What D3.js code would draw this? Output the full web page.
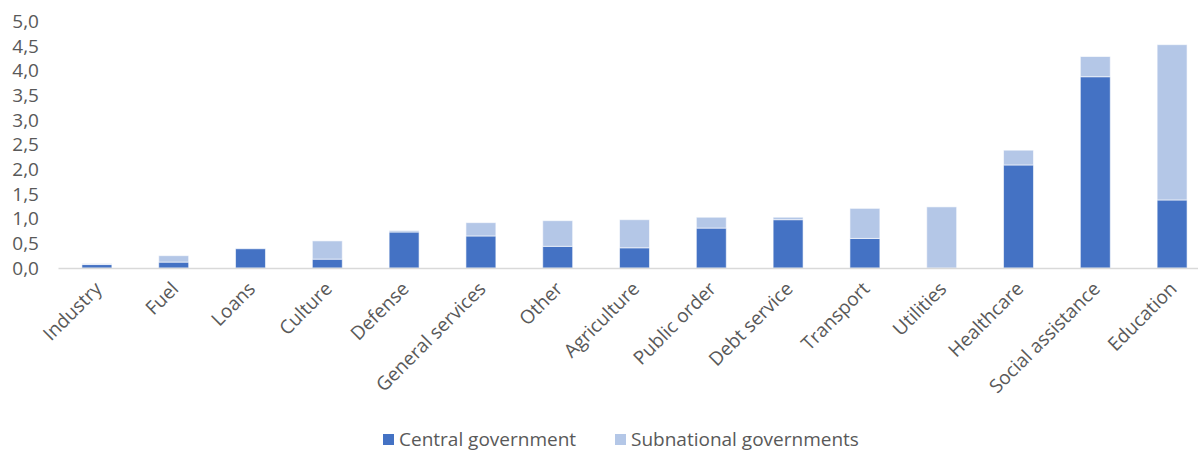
<!DOCTYPE html>
<html>
<head>
<meta charset="utf-8">
<script src="https://cdn.jsdelivr.net/npm/d3@7"></script>
<style>
  html, body { margin: 0; padding: 0; background: #fff; }
  svg { display: block; }
  text { font-family: "Open Sans", "Noto Sans", sans-serif; fill: #595959; }
</style>
</head>
<body>
<svg id="chart" width="1198" height="453"></svg>
<script>
// Spending by function, central vs. subnational governments
const categories = ["Industry", "Fuel", "Loans", "Culture", "Defense", "General services", "Other",
  "Agriculture", "Public order", "Debt service", "Transport", "Utilities", "Healthcare",
  "Social assistance", "Education"];
const central = [0.07, 0.12, 0.39, 0.18, 0.73, 0.65, 0.44, 0.41, 0.81, 0.98, 0.60, 0.00, 2.09, 3.88, 1.38];
const subnational = [0.02, 0.13, 0.00, 0.37, 0.03, 0.27, 0.52, 0.57, 0.22, 0.05, 0.61, 1.24, 0.30, 0.41, 3.15];
const yTicks = [0, 0.5, 1, 1.5, 2, 2.5, 3, 3.5, 4, 4.5, 5];
const seriesNames = ["Central government", "Subnational governments"];
const colors = ["#4472C4", "#B4C7E7"];

const svg = d3.select("#chart");
const plot = { left: 58.5, right: 1210.5, top: 21.5, bottom: 268 };

const x = d3.scaleBand().domain(categories).range([plot.left, plot.right]).paddingInner(0.61).paddingOuter(0.305);
const y = d3.scaleLinear().domain([0, 5]).range([plot.bottom, plot.top]);

const rows = categories.map((c, i) => ({ category: c, central: central[i], subnational: subnational[i] }));
const stacked = d3.stack().keys(["central", "subnational"])(rows);

// y axis labels
const fmt = v => d3.format(".1f")(v).replace(".", ",");
svg.append("g")
  .selectAll("text")
  .data(yTicks)
  .join("text")
  .attr("x", 39)
  .attr("y", d => y(d))
  .attr("dy", "0.35em")
  .attr("text-anchor", "end")
  .style("font-size", "19px")
  .text(fmt);

// stacked bars
svg.append("g")
  .selectAll("g")
  .data(stacked)
  .join("g")
  .attr("fill", (d, i) => colors[i])
  .selectAll("rect")
  .data(d => d)
  .join("rect")
  .attr("x", d => x(d.data.category))
  .attr("width", x.bandwidth())
  .attr("y", d => y(d[1]))
  .attr("height", d => Math.max(0, y(d[0]) - y(d[1])))
  .attr("stroke", "rgba(255,255,255,0.6)")
  .attr("stroke-width", 1);

// baseline
svg.append("line")
  .attr("x1", plot.left).attr("x2", plot.right)
  .attr("y1", y(0) + 0.5).attr("y2", y(0) + 0.5)
  .attr("stroke", "#D9D9D9").attr("stroke-width", 1.5);

// category labels, rotated
svg.append("g")
  .selectAll("text")
  .data(categories)
  .join("text")
  .attr("text-anchor", "end")
  .attr("transform", d => `translate(${x(d) + x.bandwidth() / 2 + 6},${y(0) + 22}) rotate(-45)`)
  .style("font-size", "19px")
  .text(d => d);

// legend
const legend = svg.append("g");
const legendX = [383, 615];
seriesNames.forEach((name, i) => {
  legend.append("rect")
    .attr("x", legendX[i]).attr("y", 434)
    .attr("width", 11).attr("height", 11)
    .attr("fill", colors[i]);
  legend.append("text")
    .attr("x", legendX[i] + 16).attr("y", 439.5)
    .attr("dy", "0.35em")
    .style("font-size", "19px")
    .text(name);
});
</script>
</body>
</html>
